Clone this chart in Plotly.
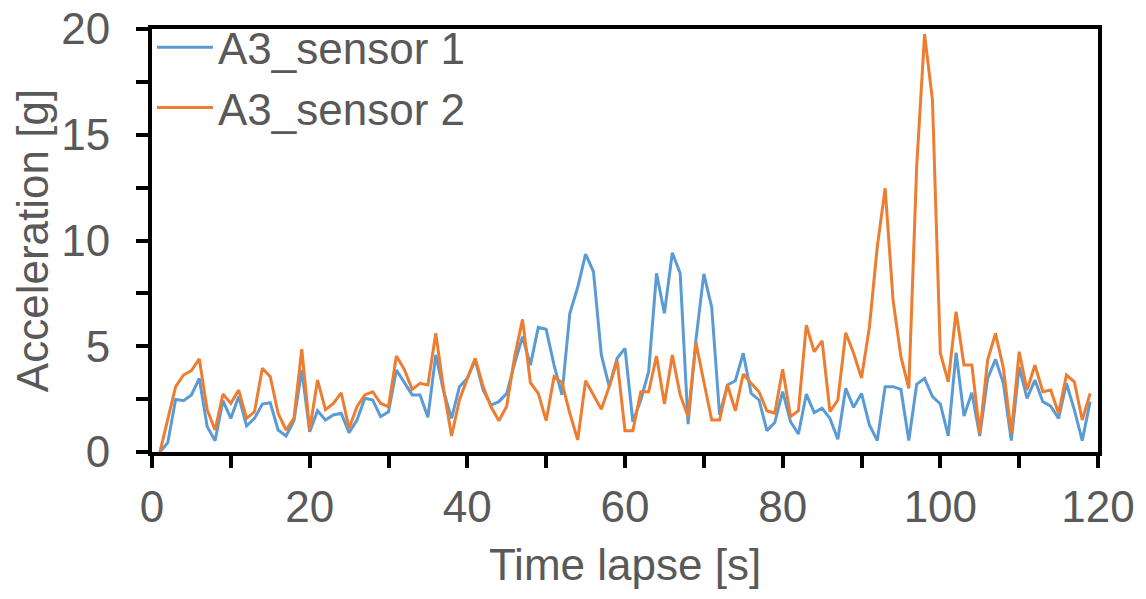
import plotly.graph_objects as go

time_s = list(range(1, 120))

sensor1 = [0, 0.44, 2.49, 2.43, 2.7, 3.48, 1.2, 0.53, 2.43, 1.59,
           2.62, 1.23, 1.59, 2.27, 2.33, 1.04, 0.76, 1.48, 3.88, 0.96,
           1.95, 1.51, 1.75, 1.83, 0.91, 1.51, 2.54, 2.46, 1.67, 1.9,
           3.88, 3.32, 2.7, 2.7, 1.64, 4.59, 2.85, 1.59, 3.09, 3.48,
           4.35, 2.93, 2.22, 2.38, 2.77, 4.19, 5.45, 4.11, 5.89, 5.8,
           4.11, 2.7, 6.56, 7.79, 9.36, 8.53, 4.59, 3.09, 4.43, 4.9,
           1.43, 2.46, 3.8, 8.45, 6.56, 9.42, 8.45, 1.32, 5.3, 8.42,
           6.84, 1.75, 3.17, 3.37, 4.67, 2.77, 2.46, 1.01, 1.39, 2.85,
           1.43, 0.85, 2.74, 1.86, 2.07, 1.59, 0.6, 3.01, 2.11, 2.77,
           1.28, 0.54, 3.09, 3.09, 2.96, 0.54, 3.2, 3.48, 2.62, 2.27,
           0.76, 4.7, 1.7, 2.8, 0.76, 3.48, 4.38, 3.25, 0.54, 4.03,
           2.54, 3.4, 2.38, 2.17, 1.59, 3.25, 1.99, 0.54, 2.38]

sensor2 = [0, 1.5, 3.09, 3.64, 3.85, 4.4, 2.0, 1.04, 2.74, 2.3,
           2.93, 1.59, 1.9, 3.96, 3.56, 1.83, 1.04, 1.59, 4.86, 1.04,
           3.4, 2.0, 2.3, 2.8, 1.12, 2.14, 2.7, 2.85, 2.3, 2.14,
           4.54, 3.91, 2.96, 3.25, 3.17, 5.61, 2.96, 0.76, 2.46, 3.48,
           4.43, 3.09, 2.14, 1.48, 2.17, 4.51, 6.27, 3.28, 2.77, 1.48,
           3.56, 3.28, 1.83, 0.57, 3.37, 2.7, 2.02, 3.09, 4.32, 1.01,
           1.01, 2.85, 2.85, 4.54, 2.27, 4.59, 2.7, 1.67, 5.17, 3.32,
           1.51, 1.51, 3.17, 1.95, 3.69, 3.25, 2.85, 1.95, 1.83, 3.91,
           1.67, 1.95, 6.0, 4.74, 5.26, 1.91, 2.46, 5.64, 4.67, 3.5,
           5.9, 9.7, 12.47, 7.19, 4.51, 3.01, 13.49, 19.76, 16.64, 4.67,
           3.32, 6.63, 4.11, 4.11, 0.88, 4.35, 5.61, 3.96, 0.88, 4.74,
           2.93, 4.11, 2.85, 2.93, 1.83, 3.64, 3.32, 1.51, 2.77]

names = ["A3_sensor 1", "A3_sensor 2"]
colors = ["#5B9BD5", "#ED7D31"]

x_ticks = [0, 20, 40, 60, 80, 100, 120]
y_ticks = [0, 5, 10, 15, 20]

FONT = "Arial, 'Liberation Sans', sans-serif"
GREY = "#595959"

fig = go.Figure()
for vals, nm, col in zip([sensor1, sensor2], names, colors):
    fig.add_trace(go.Scatter(x=time_s, y=vals, mode="lines", name=nm,
                             line=dict(color=col, width=3)))

axis_common = dict(
    showline=True, linecolor="black", linewidth=4, mirror=True,
    ticks="outside", ticklen=12, tickwidth=4, tickcolor="black",
    showgrid=False, zeroline=False, ticklabeloverflow="allow",
    tickfont=dict(family=FONT, size=44, color=GREY),
)

fig.update_xaxes(range=[0, 120], tickvals=x_ticks, ticklabelstandoff=1,
                 minor=dict(dtick=10, tick0=0, ticks="outside", ticklen=12,
                            tickwidth=4, tickcolor="black"),
                 title=dict(text="Time lapse [s]", standoff=20,
                            font=dict(family=FONT, size=44, color=GREY)),
                 **axis_common)
fig.update_yaxes(range=[0, 20], tickvals=y_ticks, ticklabelstandoff=17,
                 minor=dict(dtick=2.5, tick0=0, ticks="outside", ticklen=12,
                            tickwidth=4, tickcolor="black"),
                 title=dict(text="Acceleration [g]", standoff=30,
                            font=dict(family=FONT, size=44, color=GREY)),
                 **axis_common)

fig.update_layout(
    width=1138, height=591,
    margin=dict(l=144, r=48, t=21, b=147, autoexpand=False),
    plot_bgcolor="white", paper_bgcolor="white",
    font=dict(family=FONT, size=44, color=GREY),
    legend=dict(x=0.0, y=1.04, xanchor="left", yanchor="top",
                bgcolor="rgba(0,0,0,0)", borderwidth=0,
                font=dict(family=FONT, size=44, color=GREY),
                tracegroupgap=0, itemwidth=56),
    showlegend=True,
)

fig.write_html("out.html")
